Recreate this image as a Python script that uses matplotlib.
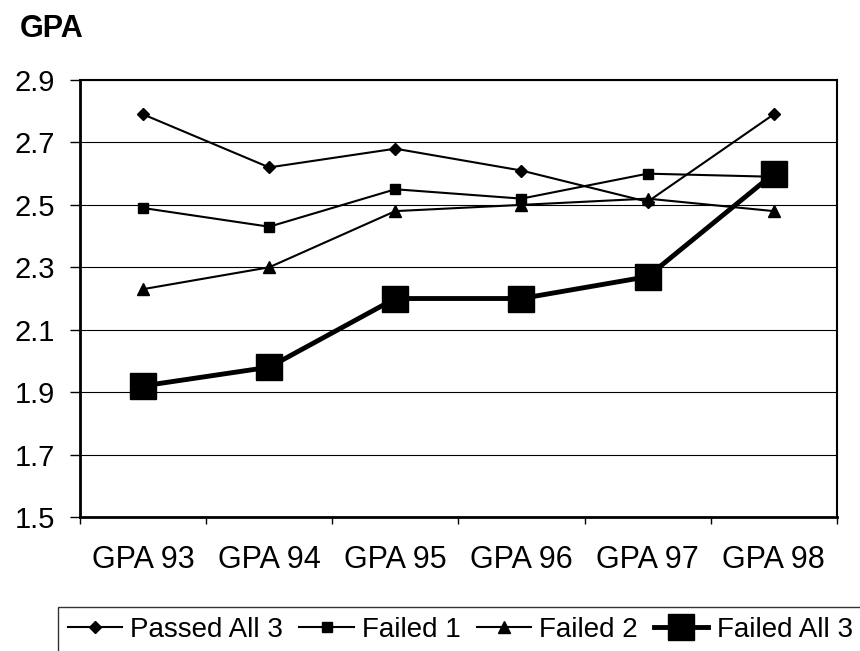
import numpy as np
import matplotlib
matplotlib.use('Agg')
import matplotlib.pyplot as plt

plt.rcParams['font.family'] = ['Liberation Sans', 'DejaVu Sans']

years = ['GPA 93', 'GPA 94', 'GPA 95', 'GPA 96', 'GPA 97', 'GPA 98']
passed_all3 = [2.79, 2.62, 2.68, 2.61, 2.51, 2.79]
failed_1 = [2.49, 2.43, 2.55, 2.52, 2.60, 2.59]
failed_2 = [2.23, 2.30, 2.48, 2.50, 2.52, 2.48]
failed_all3 = [1.92, 1.98, 2.20, 2.20, 2.27, 2.60]

fig = plt.figure(figsize=(8.6, 6.51), dpi=100)
ax = fig.add_axes([0.093, 0.2058, 0.880, 0.6713])

x = np.arange(len(years))
ax.plot(x, passed_all3, color='black', lw=1.5, marker='D', ms=6.5, label='Passed All 3', zorder=3)
ax.plot(x, failed_1, color='black', lw=1.5, marker='s', ms=7, label='Failed 1', zorder=3)
ax.plot(x, failed_2, color='black', lw=1.5, marker='^', ms=8, label='Failed 2', zorder=3)
ax.plot(x, failed_all3, color='black', lw=3.5, marker='s', ms=19, label='Failed All 3', zorder=4)

ax.set_xlim(-0.5, 5.5)
ax.set_ylim(1.5, 2.9)
yt = np.arange(1.5, 2.91, 0.2)
ax.set_yticks(yt)
ax.set_yticklabels(['%.1f' % v for v in yt], fontsize=21)
ax.tick_params(axis='y', length=7, width=1, pad=11, direction='out')

ax.set_xticks(x)
ax.set_xticklabels(years, fontsize=22)
ax.tick_params(axis='x', which='major', length=0, pad=20)
ax.set_xticks(np.arange(-0.5, 6, 1), minor=True)
ax.tick_params(axis='x', which='minor', length=5, width=1, direction='out')

ax.yaxis.grid(True, color='black', lw=0.8)
ax.set_axisbelow(True)
for s in ['left', 'bottom']:
    ax.spines[s].set_linewidth(2)
for s in ['top', 'right']:
    ax.spines[s].set_linewidth(1.5)

fig.text(20 / 860, 1 - 14 / 651, 'GPA', fontsize=22, fontweight='bold', va='top', ha='left')

leg = fig.legend(loc='upper left', bbox_to_anchor=(58 / 860, (651 - 607) / 651), ncol=4,
                 fontsize=20, frameon=True, fancybox=False, edgecolor='black',
                 handlelength=1.95, handletextpad=0.3, columnspacing=0.58,
                 borderpad=0.36, borderaxespad=0)
leg.get_frame().set_linewidth(1)

fig.savefig('out.png', dpi=100)
